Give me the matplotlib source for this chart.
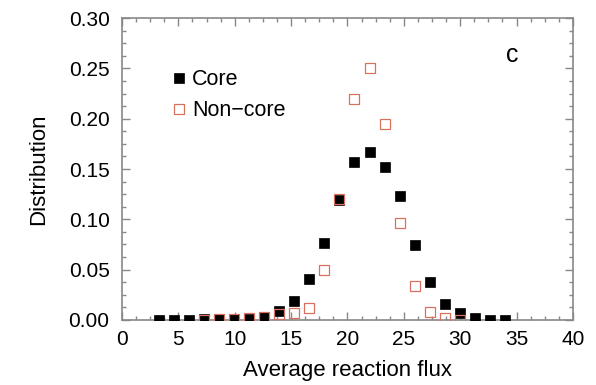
import matplotlib
matplotlib.use('Agg')
import matplotlib.pyplot as plt
from matplotlib.ticker import MultipleLocator

plt.rcParams['font.family'] = ['Liberation Sans', 'DejaVu Sans']

# bin centres (average reaction flux)
core_x = [3.29, 4.62, 5.96, 7.29, 8.62, 9.96, 11.29, 12.62, 13.96, 15.29,
          16.62, 17.96, 19.29, 20.62, 21.96, 23.29, 24.62, 25.96, 27.29,
          28.62, 29.96, 31.29, 32.62, 33.96]
core_y = [0.0, 0.0, 0.0, 0.0005, 0.0005, 0.001, 0.001, 0.003, 0.009, 0.019,
          0.041, 0.076, 0.119, 0.157, 0.167, 0.152, 0.123, 0.074, 0.038,
          0.016, 0.007, 0.002, 0.0, 0.0]

noncore_x = [7.29, 8.62, 9.96, 11.29, 12.62, 13.96, 15.29, 16.62, 17.96,
             19.29, 20.62, 21.96, 23.29, 24.62, 25.96, 27.29, 28.62, 29.96]
noncore_y = [0.0, 0.0005, 0.001, 0.002, 0.003, 0.006, 0.007, 0.012, 0.050,
             0.120, 0.220, 0.250, 0.195, 0.096, 0.034, 0.008, 0.002, 0.0]

RED = '#d9705f'
GREY = '#888888'

fig = plt.figure(figsize=(5.96, 3.85), dpi=100)
ax = fig.add_axes([0.2047, 0.169, 0.7566, 0.784])

ax.plot(core_x, core_y, 's', ms=7.2, color='black', mec='black', mew=0.5,
        label='Core', zorder=3)
ax.plot(noncore_x, noncore_y, 's', ms=6.8, mfc='none', mec=RED, mew=0.9,
        label='Non\u2212core', zorder=4)

ax.set_xlim(0, 40)
ax.set_ylim(0, 0.30)
ax.xaxis.set_major_locator(MultipleLocator(5))
ax.xaxis.set_minor_locator(MultipleLocator(1.25))
ax.yaxis.set_major_locator(MultipleLocator(0.05))
ax.yaxis.set_minor_locator(MultipleLocator(0.0125))
ax.yaxis.set_major_formatter(plt.FormatStrFormatter('%.2f'))
ax.tick_params(which='both', direction='in', top=True, right=True,
               color=GREY, labelsize=15, labelcolor='black')
ax.tick_params(which='major', length=6, width=1)
ax.tick_params(which='minor', length=3, width=1)
ax.tick_params(axis='x', pad=7)
ax.tick_params(axis='y', pad=9)
for sp in ax.spines.values():
    sp.set_color(GREY)
    sp.set_linewidth(1.2)

ax.set_xlabel('Average reaction flux', fontsize=16, labelpad=8)
ax.set_ylabel('Distribution', fontsize=16, labelpad=14)

ax.text(34.6, 0.263, 'c', fontsize=18, ha='center', va='center')

ax.legend(loc='upper left', bbox_to_anchor=(0.105, 0.83), frameon=False,
          fontsize=15.5, handletextpad=0.15, labelspacing=0.45,
          handlelength=0.9, borderaxespad=0, borderpad=0)

fig.savefig('out.png', dpi=100)
